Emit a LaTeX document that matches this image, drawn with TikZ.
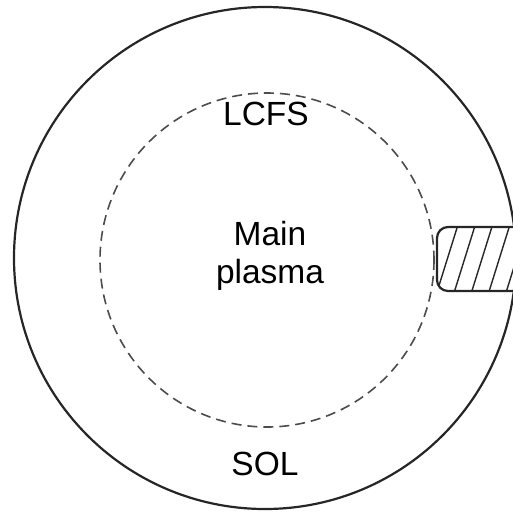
\documentclass[tikz,border=0pt]{standalone}
\usepackage{fontspec}
\setmainfont{Liberation Sans}
\begin{document}
\begin{tikzpicture}[x=1pt,y=-1pt,
  lbl/.style={font=\fontsize{33.5}{38}\selectfont, align=center, inner sep=0pt},
  wall/.style={line width=2.2pt, draw=black!85},
  lcfs/.style={line width=1.6pt, draw=black!70, dash pattern=on 10pt off 6pt}]
\useasboundingbox (0,0) rectangle (513,515);
\begin{scope}
\clip (0,0) rectangle (513,515);
\draw[wall] (265,258) circle (251);
\draw[lcfs] (267,260) circle (167);
% limiter
\begin{scope}
\clip[rounded corners=11pt] (530,227) -- (437,227) -- (437,291) -- (530,291) -- cycle;
\foreach \t in {420,437.3,...,540} {
  \draw[line width=1.4pt, black!85] (\t,291) -- (\t+20,227);
}
\end{scope}
\draw[line width=2.2pt, black!85, rounded corners=11pt] (530,227) -- (437,227) -- (437,291) -- (530,291);
\end{scope}
\node[lbl] (lcfsl) at (266,114) {LCFS};
\node[lbl] (main) at (270,256) {Main\\plasma};
\node[lbl] (sol) at (265,464) {SOL};
\end{tikzpicture}
\end{document}
